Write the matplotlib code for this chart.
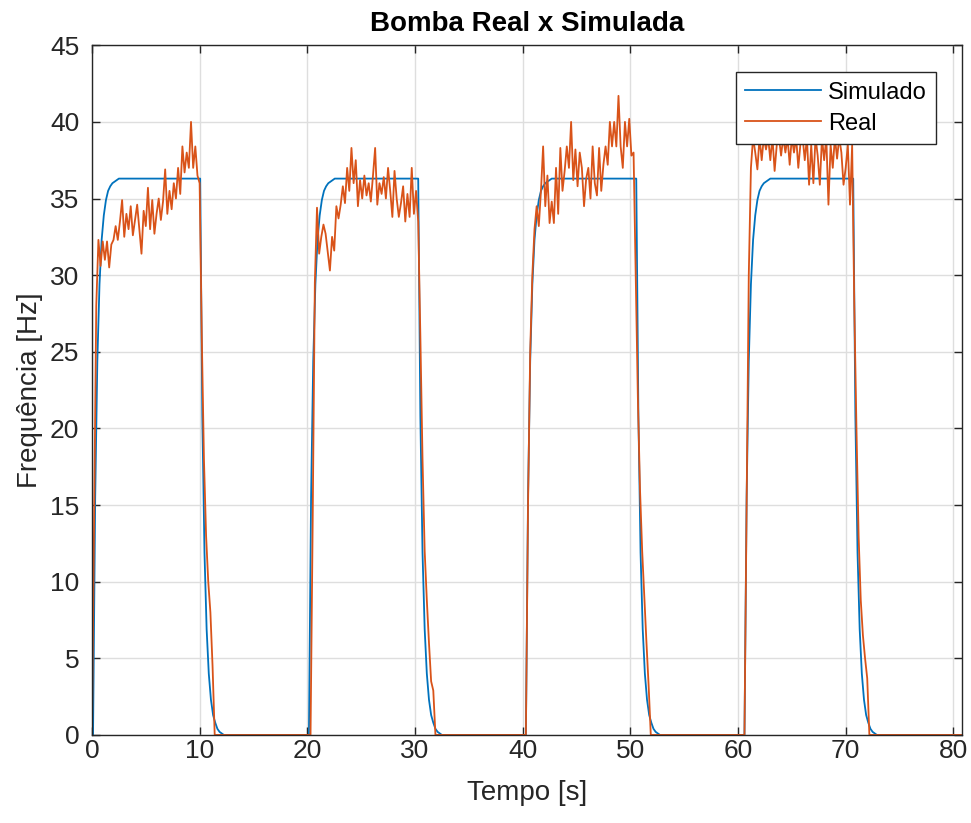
import numpy as np
from matplotlib import pyplot as plt

# simulated pump: on/off instants and the step response
sim_on = [0.1, 20.15, 40.3, 60.6]
sim_off = [10.05, 30.3, 50.55, 70.7]
sim_level = 36.3
sim_rise = [0, 15.5, 24.4, 29.4, 32.3, 33.9, 34.9, 35.5, 35.8, 36.0, 36.1, 36.2, 36.3]
sim_fall = [36.3, 20.8, 11.9, 6.9, 4.0, 2.3, 1.3, 0.8, 0.4, 0.2, 0.1, 0.0]
sim_step = 0.2

# real pump: start of each recorded burst, 0.2 s between samples
real_start = [0.0, 20.3, 40.3, 60.6]
real_step = 0.2
real_p1 = [0, 14, 28, 32.3, 30.6, 32.2, 31.0, 32.2, 30.5, 32.0,
           32.3, 33.2, 32.3, 33.5, 34.9, 32.5, 34.0, 33.0, 34.5, 32.6,
           33.6, 34.6, 33.0, 31.4, 34.2, 33.2, 35.7, 33.0, 34.9, 32.7,
           34.0, 35.0, 33.6, 34.8, 36.9, 34.0, 35.5, 34.3, 36.0, 35.0,
           37.0, 35.3, 38.4, 36.7, 38.0, 37.0, 40.0, 37.0, 38.4, 36.5,
           36, 26, 18, 13, 10, 8, 4.5, 0]
real_p2 = [0, 14, 29.5, 34.4, 31.4, 32.5, 33.3, 32.7, 31.5, 30.3,
           32.5, 31.6, 34.5, 33.7, 34.6, 35.8, 34.7, 37.0, 35.5, 38.3,
           36.0, 37.5, 34.5, 36.2, 35.0, 36.5, 35.2, 36.0, 34.8, 36.5,
           38.3, 34.6, 36.0, 35.3, 36.4, 35.0, 37.0, 35.5, 33.8, 36.8,
           35.0, 33.8, 34.7, 35.8, 33.5, 35.3, 33.8, 37.0, 34.0, 35.5,
           33.5, 26, 18, 12, 8.8, 6, 3.5, 2.9, 0]
real_p3 = [0, 15, 25, 30, 33, 34.5, 33.2, 35.5, 38.4, 34.5,
           36.5, 33.4, 34.8, 33.4, 37.0, 34.0, 38.3, 35.5, 36.8, 38.4,
           37.0, 40.0, 36.2, 38.2, 35.8, 38.0, 37.0, 34.5, 36.3, 37.0,
           35.0, 38.4, 36.0, 35.2, 38.3, 35.5, 37.2, 38.4, 37.2, 40.0,
           38.4, 40.0, 38.4, 41.7, 38.4, 37.0, 40.0, 38.4, 40.2, 37.8,
           38.0, 30, 22, 16, 12, 9, 6, 3.2, 0]
real_p4 = [0, 15, 30, 37, 39.0, 38.0, 36.9, 39.0, 37.5, 39.0,
           38.2, 39.0, 37.5, 39.0, 36.8, 38.5, 39.0, 37.8, 39.0, 38.0,
           39.0, 37.2, 39.0, 38.0, 39.0, 37.0, 38.6, 39.0, 37.5, 39.0,
           35.9, 38.5, 36.0, 39.0, 37.8, 35.9, 39.0, 37.5, 39.0, 34.6,
           38.5, 37.0, 39.0, 37.6, 39.0, 38.0, 35.9, 37.0, 38.5, 34.6,
           38.5, 28, 20, 13, 8.8, 6.5, 5, 3.7, 0]
real_bursts = [real_p1, real_p2, real_p3, real_p4]
t_end = 80.8

# build simulated series
sim_t = [0.0]
sim_y = [0.0]
for on, off in zip(sim_on, sim_off):
    for k, v in enumerate(sim_rise):
        sim_t.append(on + k * sim_step)
        sim_y.append(v)
    for k, v in enumerate(sim_fall):
        sim_t.append(off + k * sim_step)
        sim_y.append(v * sim_level / sim_fall[0])
sim_t.append(t_end)
sim_y.append(0.0)

# build real series
real_t = []
real_y = []
for start, vals in zip(real_start, real_bursts):
    for k, v in enumerate(vals):
        real_t.append(start + k * real_step)
        real_y.append(v)
real_t.append(t_end)
real_y.append(0.0)

plt.rcParams['font.family'] = ['Liberation Sans', 'DejaVu Sans']

fig = plt.figure(figsize=(9.71, 8.23), dpi=100)
ax = fig.add_axes([0.0947, 0.107, 0.896, 0.838])

ax.plot(sim_t, sim_y, color="#0072BD", linewidth=1.3, label="Simulado")
ax.plot(real_t, real_y, color="#D95319", linewidth=1.3, label="Real")

ax.set_xlim(0, t_end)
ax.set_ylim(0, 45)
ax.set_xticks(np.arange(0, 81, 10))
ax.set_yticks(np.arange(0, 46, 5))
ax.grid(True, color="#dedede", linewidth=1)
ax.set_axisbelow(True)
ax.tick_params(direction="in", length=6, width=1, labelsize=19, colors="#262626",
               top=True, right=True)
ax.tick_params(axis="x", pad=3)
ax.tick_params(axis="y", pad=9)
for s in ax.spines.values():
    s.set_color("#262626")
    s.set_linewidth(1.0)

ax.set_xlabel("Tempo [s]", fontsize=20, color="#262626", labelpad=12)
ax.set_ylabel("Frequência [Hz]", fontsize=20, color="#262626", labelpad=5)
ax.set_title("Bomba Real x Simulada", fontsize=20, fontweight="bold", pad=10)

leg = ax.legend(loc="upper right", bbox_to_anchor=(0.97, 0.961), borderaxespad=0,
                fontsize=17, handlelength=3.2, fancybox=False, framealpha=1,
                edgecolor="#262626", borderpad=0.4, labelspacing=0.38, handletextpad=0.3)
leg.get_frame().set_linewidth(1.0)

fig.savefig("out.png", dpi=100)
